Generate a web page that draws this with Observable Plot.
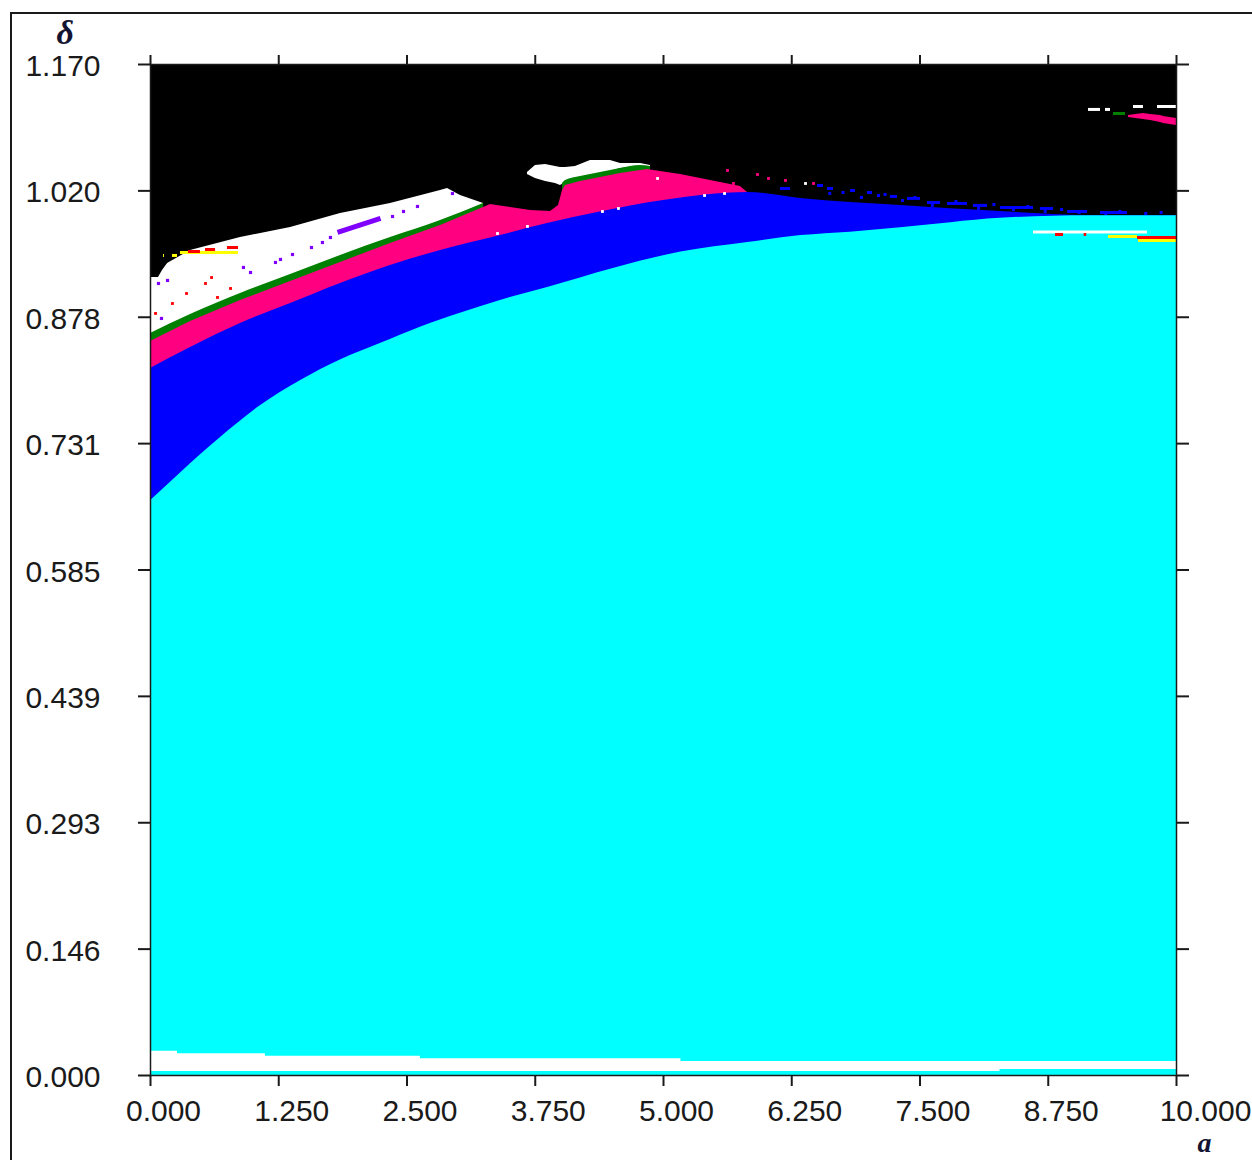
<!DOCTYPE html>
<html>
<head>
<meta charset="utf-8">
<script src="https://cdn.jsdelivr.net/npm/d3@7"></script>
<script src="https://cdn.jsdelivr.net/npm/@observablehq/plot@0.6"></script>
<style>
  html, body { margin: 0; padding: 0; background: #fff; overflow: hidden; }
  #wrap { position: relative; width: 1252px; height: 1160px; }
  #outer { position: absolute; left: 10px; top: 12px; width: 1400px; height: 1300px;
           border-left: 2px solid #1a1a1a; border-top: 2px solid #1a1a1a; pointer-events: none; }
  #chart { position: absolute; left: 0; top: 0; }
</style>
</head>
<body>
<div id="wrap"><div id="chart"></div><div id="outer"></div></div>
<script>
// ---- axes ----
const xTicks = [0, 1.25, 2.5, 3.75, 5, 6.25, 7.5, 8.75, 10];
const xLabels = ["0.000", "1.250", "2.500", "3.750", "5.000", "6.250", "7.500", "8.750", "10.000"];
const yTicks = [0, 0.14625, 0.2925, 0.43875, 0.585, 0.73125, 0.8775, 1.02375, 1.17];
const yLabels = ["0.000", "0.146", "0.293", "0.439", "0.585", "0.731", "0.878", "1.020", "1.170"];

// ---- region boundaries (a, delta) ----
const whiteA   = [0, 0.078, 0.117, 0.166, 0.390, 0.877, 1.365, 1.852, 2.339, 2.827, 2.895, 3.021, 3.246];
const whiteTop = [0.9235, 0.9235, 0.9316, 0.9397, 0.9548, 0.9698, 0.9814, 0.9976, 1.0092, 1.0242, 1.0265, 1.0184, 1.0092];

const greenA   = [0, 0.390, 0.877, 1.365, 1.852, 2.339, 2.827, 3.246];
const greenTop = [0.8587, 0.8807, 0.9050, 0.9270, 0.9490, 0.9698, 0.9895, 1.0092];

const green2A   = [4.016, 4.045, 4.191, 4.386, 4.581, 4.776, 4.873];
const green2Top = [1.0323, 1.0358, 1.0404, 1.0450, 1.0497, 1.0531, 1.0520];

const islandA   = [3.674, 3.752, 3.850, 3.947, 3.996, 4.045, 4.142, 4.288, 4.483, 4.581, 4.776, 4.873];
const islandTop = [1.0450, 1.0531, 1.0543, 1.0520, 1.0508, 1.0508, 1.0520, 1.0589, 1.0589, 1.0555, 1.0555, 1.0531];
const islandBot = [1.0427, 1.0381, 1.0346, 1.0323, 1.0300, 1.0335, 1.0370, 1.0416, 1.0462, 1.0497, 1.0520, 1.0520];

const pinkA   = [0, 0.390, 0.877, 1.365, 1.852, 2.339, 2.827, 3.246, 3.314, 3.509, 3.704, 3.899, 3.977, 4.016, 4.045, 4.191, 4.386, 4.581, 4.776, 4.844, 4.971, 5.166, 5.361, 5.556, 5.750, 5.819];
const pinkTop = [0.8495, 0.8726, 0.8969, 0.9189, 0.9409, 0.9629, 0.9837, 1.0045, 1.0080, 1.0045, 1.0011, 0.9999, 1.0069, 1.0242, 1.0300, 1.0346, 1.0393, 1.0439, 1.0474, 1.0485, 1.0462, 1.0427, 1.0381, 1.0335, 1.0288, 1.0219];

const blueA   = [0, 0.390, 0.877, 1.365, 1.852, 2.339, 2.827, 3.411, 3.869, 4.357, 4.999, 5.819, 6.335, 7.310, 8.285, 9.162, 10];
const blueTop = [0.8182, 0.8425, 0.8703, 0.8934, 0.9166, 0.9374, 0.9548, 0.9721, 0.9860, 0.9987, 1.0126, 1.0219, 1.0150, 1.0069, 0.9999, 0.9953, 0.9953];

const cyanA   = [0, 0.29, 0.68, 1.07, 1.46, 1.85, 2.24, 2.63, 3.02, 3.41, 3.87, 4.51, 5.17, 5.82, 6.34, 6.82, 7.31, 7.80, 8.28, 9.16, 10];
const cyanTop = [0.665, 0.697, 0.738, 0.775, 0.804, 0.828, 0.847, 0.866, 0.882, 0.897, 0.912, 0.934, 0.953, 0.964, 0.972, 0.976, 0.981, 0.987, 0.992, 0.995, 0.995];

// bottom white strip (step edges)
const stripA   = [0, 0.263, 1.12, 2.63, 5.17, 8.28, 10];
const stripTop = [0.0281, 0.0251, 0.0223, 0.0193, 0.0162, 0.0162, 0.0162];
const stripBot = [0.0046, 0.0046, 0.0046, 0.0046, 0.0046, 0.0069, 0.0069];

// upper-right pink patch
const patchA   = [9.532, 9.678, 9.747, 9.844, 9.873, 10];
const patchTop = [1.1110, 1.1133, 1.1122, 1.1110, 1.1098, 1.1075];
const patchBot = [1.1087, 1.1064, 1.1052, 1.1029, 1.1017, 1.0994];

// ---- scattered points ----
const purpleA = [0.078, 0.166, 0.107, 0.906, 0.975, 1.218, 1.267, 1.384, 1.569, 1.676, 1.754, 2.359, 2.466, 2.602, 2.943];
const purpleD = [0.9166, 0.9201, 0.8761, 0.9351, 0.9293, 0.9409, 0.9444, 0.9501, 0.9582, 0.9640, 0.9698, 0.9941, 0.9999, 1.0057, 1.0207];
const purpleStreak = [{a1: 1.823, d1: 0.9756, a2: 2.242, d2: 0.9918}];

const redA = [0.049, 0.214, 0.351, 0.536, 0.595, 0.780, 0.653];
const redD = [0.8819, 0.8934, 0.9050, 0.9166, 0.9235, 0.9108, 0.9004];

const whiteDotA = [4.942, 5.400, 5.595, 4.561, 4.405, 3.674, 3.382, 6.384];
const whiteDotD = [1.0381, 1.0184, 1.0207, 1.0034, 0.9999, 0.9826, 0.9744, 1.0323];

const pinkDotA = [5.624, 5.682, 5.916, 6.023, 6.189, 6.462];
const pinkDotD = [1.0474, 1.0323, 1.0427, 1.0381, 1.0358, 1.0323];

const blueDotA = [6.62, 6.75, 6.93, 7.16, 7.33, 7.45, 7.62, 7.85, 8.07, 8.22, 8.41, 8.55, 8.72, 8.88, 9.05, 9.31, 9.45, 9.70, 9.85];
const blueDotD = [1.0208, 1.0219, 1.0161, 1.0196, 1.0126, 1.0161, 1.0069, 1.0115, 1.0034, 1.0080, 1.0022, 1.0057, 0.9999, 1.0022, 0.9987, 0.9976, 0.9999, 0.9976, 0.9987];

// short horizontal dashes: [a1, a2, delta, colour]
const dashes = [
  [0.127, 0.136, 0.9490, "#ffff00"], [0.214, 0.263, 0.9490, "#ffff00"],
  [0.292, 0.858, 0.9525, "#ffff00"],
  [0.370, 0.487, 0.9536, "#ff0000"], [0.536, 0.634, 0.9559, "#ff0000"], [0.750, 0.858, 0.9582, "#ff0000"],
  [6.140, 6.238, 1.0265, "#0000ff"], [6.501, 6.559, 1.0300, "#0000ff"], [6.598, 6.657, 1.0265, "#0000ff"],
  [6.823, 6.871, 1.0242, "#0000ff"], [6.988, 7.037, 1.0219, "#0000ff"], [7.086, 7.115, 1.0184, "#0000ff"],
  [7.212, 7.281, 1.0173, "#0000ff"], [7.378, 7.505, 1.0150, "#0000ff"], [7.573, 7.700, 1.0103, "#0000ff"],
  [7.768, 7.963, 1.0092, "#0000ff"], [8.021, 8.158, 1.0069, "#0000ff"], [8.285, 8.606, 1.0045, "#0000ff"],
  [8.674, 8.801, 1.0034, "#0000ff"], [8.938, 9.133, 0.9999, "#0000ff"], [9.259, 9.522, 0.9987, "#0000ff"],
  [8.606, 9.717, 0.9762, "#ffffff"], [8.821, 8.899, 0.9733, "#ff0000"], [9.100, 9.125, 0.9733, "#ff0000"],
  [9.337, 9.620, 0.9710, "#ffff00"], [9.620, 10, 0.9698, "#ff0000"], [9.630, 10, 0.9664, "#ffff00"],
  [9.142, 9.259, 1.1180, "#ffffff"], [9.308, 9.357, 1.1180, "#ffffff"], [9.581, 9.678, 1.1214, "#ffffff"],
  [9.815, 10, 1.1214, "#ffffff"], [9.386, 9.503, 1.1133, "#008000"]
];

// ---- build tables ----
const tbl = (A, ...cols) => A.map((a, i) => Object.fromEntries([["a", a], ...cols.map(([k, v]) => [k, v[i]])]));
const white  = tbl(whiteA, ["t", whiteTop]);
const green  = tbl(greenA, ["t", greenTop]);
const green2 = tbl(green2A, ["t", green2Top]);
const island = tbl(islandA, ["t", islandTop], ["b", islandBot]);
const pink   = tbl(pinkA, ["t", pinkTop]);
const blue   = tbl(blueA, ["t", blueTop]);
const cyan   = tbl(cyanA, ["t", cyanTop]);
const strip  = tbl(stripA, ["t", stripTop], ["b", stripBot]);
const patch  = tbl(patchA, ["t", patchTop], ["b", patchBot]);
const purple = tbl(purpleA, ["d", purpleD]);
const red    = tbl(redA, ["d", redD]);
const wdots  = tbl(whiteDotA, ["d", whiteDotD]);
const pdots  = tbl(pinkDotA, ["d", pinkDotD]);
const bdots  = tbl(blueDotA, ["d", blueDotD]);
const dashRows = dashes.map(([a1, a2, d, c]) => ({a1, a2, d, c}));
const xl = xTicks.map((v, i) => ({v, s: xLabels[i]}));
const yl = yTicks.map((v, i) => ({v, s: yLabels[i]}));

const band = (data, fill, curve) => Plot.areaY(data, {x: "a", y1: 0, y2: "t", fill, curve: curve || "monotone-x"});

const chart = Plot.plot({
  width: 1252, height: 1160,
  marginLeft: 150, marginRight: 76, marginTop: 64, marginBottom: 85,
  x: {domain: [0, 10]},
  y: {domain: [0, 1.17]},
  style: {fontFamily: "'Liberation Sans', Arial, sans-serif", fontSize: "30px", color: "#1a1a1a", background: "transparent"},
  marks: [
    Plot.frame({fill: "#000000", stroke: null}),
    band(white, "#ffffff", "linear"),
    Plot.areaY(island, {x: "a", y1: "b", y2: "t", fill: "#ffffff"}),
    band(green, "#008000"),
    band(green2, "#008000"),
    band(pink, "#ff0080", "linear"),
    band(blue, "#0000ff"),
    band(cyan, "#00ffff"),
    Plot.areaY(strip, {x: "a", y1: "b", y2: "t", fill: "#ffffff", curve: "step-after"}),
    Plot.areaY(patch, {x: "a", y1: "b", y2: "t", fill: "#ff0080"}),
    Plot.link(purpleStreak, {x1: "a1", y1: "d1", x2: "a2", y2: "d2", stroke: "#8000ff", strokeWidth: 5}),
    Plot.ruleY(dashRows, {y: "d", x1: "a1", x2: "a2", stroke: "c", strokeWidth: 3}),
    Plot.dot(purple, {x: "a", y: "d", r: 1.8, symbol: "square", fill: "#8000ff"}),
    Plot.dot(red, {x: "a", y: "d", r: 1.6, symbol: "square", fill: "#ff0000"}),
    Plot.dot(wdots, {x: "a", y: "d", r: 1.6, symbol: "square", fill: "#ffffff"}),
    Plot.dot(pdots, {x: "a", y: "d", r: 1.6, symbol: "square", fill: "#ff0080"}),
    Plot.dot(bdots, {x: "a", y: "d", r: 1.7, symbol: "square", fill: "#0000ff"}),
    Plot.frame({stroke: "#1a1a1a", strokeWidth: 1.5}),
    Plot.axisX({anchor: "bottom", ticks: xTicks, tickSize: 11, tickFormat: () => "", label: null, strokeWidth: 2}),
    Plot.axisX({anchor: "top", ticks: xTicks, tickSize: 10, tickFormat: () => "", label: null, strokeWidth: 2}),
    Plot.axisY({anchor: "left", ticks: yTicks, tickSize: 12, tickFormat: () => "", label: null, strokeWidth: 2}),
    Plot.axisY({anchor: "right", ticks: yTicks, tickSize: 12, tickFormat: () => "", label: null, strokeWidth: 2}),
    Plot.text(xl.slice(0, -1), {x: "v", text: "s", frameAnchor: "bottom", dy: 36, dx: 13, lineAnchor: "middle", fill: "#1a1a1a"}),
    Plot.text(xl.slice(-1), {x: "v", text: "s", frameAnchor: "bottom", dy: 36, dx: 29, lineAnchor: "middle", fill: "#1a1a1a"}),
    Plot.text(yl, {y: "v", text: "s", frameAnchor: "left", textAnchor: "end", dx: -50, dy: 2, lineAnchor: "middle", fill: "#1a1a1a"}),
    Plot.text(["δ"], {frameAnchor: "top-left", dx: -94, dy: -31, lineAnchor: "middle", fontFamily: "'Liberation Serif', 'Times New Roman', serif", fontStyle: "italic", fontWeight: "bold", fontSize: 34, fill: "#141432"}),
    Plot.text(["a"], {frameAnchor: "bottom-right", dx: 35, dy: 68, lineAnchor: "middle", fontFamily: "'Liberation Serif', 'Times New Roman', serif", fontStyle: "italic", fontWeight: "bold", fontSize: 28, fill: "#141432"})
  ]
});
document.getElementById("chart").appendChild(chart);
</script>
</body>
</html>
